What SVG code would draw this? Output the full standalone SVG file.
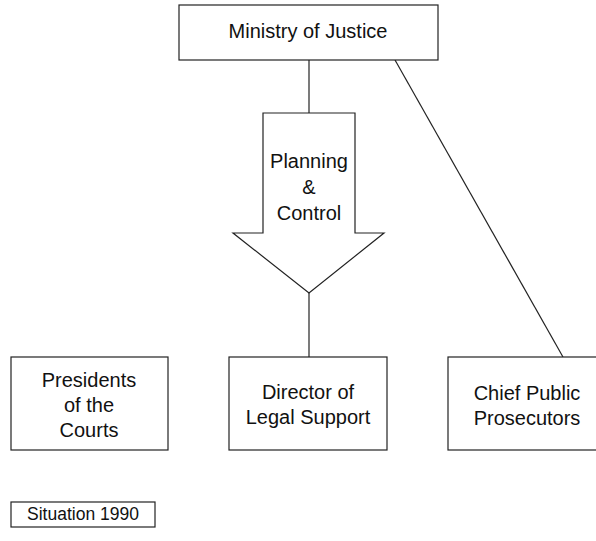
<svg xmlns="http://www.w3.org/2000/svg" width="596" height="541" viewBox="0 0 596 541">
<style>
.box{fill:#fff;stroke:#222;stroke-width:1.2}
.ln{fill:none;stroke:#222;stroke-width:1.2}
text{font-family:"Liberation Sans",Arial,sans-serif;font-size:20px;fill:#111;text-anchor:middle}
.small{font-size:17.5px}
</style>
<rect width="596" height="541" fill="#fff"/>
<g id="connectors">
<line class="ln" x1="309" y1="60" x2="309" y2="113"/>
<line class="ln" x1="309" y1="293" x2="309" y2="357"/>
<line class="ln" x1="395" y1="60" x2="563" y2="357"/>
</g>
<g id="ministry">
<rect class="box" x="179" y="5" width="259" height="55"/>
<text x="308" y="38">Ministry of Justice</text>
</g>
<g id="planning">
<polygon class="box" points="263,113 355,113 355,233 384,233 309,293 233,233 263,233"/>
<text x="309" y="168">Planning</text>
<text x="309" y="194">&amp;</text>
<text x="309" y="220">Control</text>
</g>
<g id="presidents">
<rect class="box" x="11" y="357" width="157" height="93"/>
<text x="89" y="387">Presidents</text>
<text x="89" y="412">of the</text>
<text x="89" y="437">Courts</text>
</g>
<g id="director">
<rect class="box" x="229" y="357" width="158" height="93"/>
<text x="308" y="399">Director of</text>
<text x="308" y="424">Legal Support</text>
</g>
<g id="chief">
<rect class="box" x="448" y="357" width="158" height="93"/>
<text x="527" y="400">Chief Public</text>
<text x="527" y="425">Prosecutors</text>
</g>
<g id="situation">
<rect class="box" x="11" y="502" width="144" height="25"/>
<text class="small" x="83" y="520">Situation 1990</text>
</g>
</svg>
